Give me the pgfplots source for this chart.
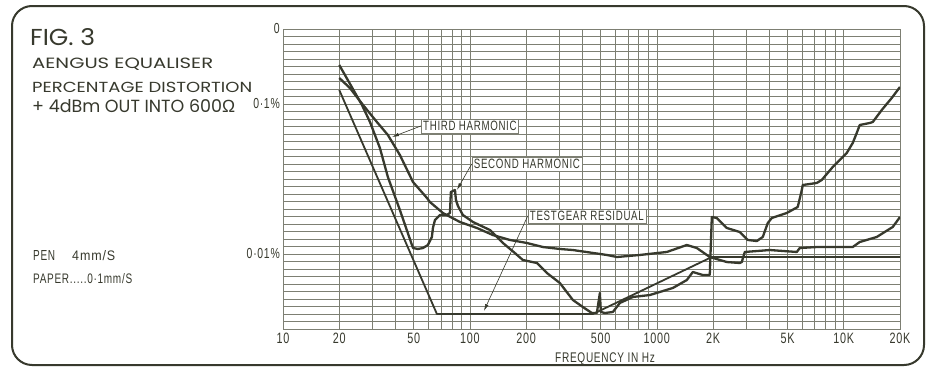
\documentclass[border=0pt]{standalone}
\usepackage{fontspec}
\usepackage{graphicx}
\usepackage{pgfplots}
\pgfplotsset{compat=1.18}
\usetikzlibrary{arrows.meta}
\setmainfont{Liberation Sans}
\newfontfamily\cond[FakeStretch=0.72,LetterSpace=5]{Liberation Sans}
\newfontfamily\geo{Poppins}
\newfontfamily\lib{Liberation Sans}
\definecolor{ink}{RGB}{55,57,45}
\definecolor{gridc}{RGB}{125,127,115}

\pgfplotstableread{
f dB
20 -4.8
26.45 -10.13
29.2 -12.4
33.0 -15.87
36.4 -19.73
42.2 -24.13
49.6 -29.2
52.7 -29.33
56.1 -29.2
59.6 -28.8
62.6 -27.73
63.4 -26.53
65.0 -25.47
69.1 -24.8
75.3 -24.8
78.2 -24.53
79.1 -21.73
83.2 -21.47
84.2 -22.8
86.3 -23.6
91.7 -24.8
103.8 -25.73
127.9 -26.8
150.2 -28.53
174.0 -29.87
192.0 -30.8
228.2 -31.2
258.1 -32.53
302.9 -33.87
355.5 -36.13
402.0 -37.07
449.2 -37.87
477.7 -37.87
495.7 -35.2
501.8 -37.73
527.2 -37.87
581.9 -37.73
634.3 -36.53
744.2 -35.73
917.6 -35.47
1218 -34.53
1447 -33.47
1558 -32.4
1762 -32.8
1920 -32.8
1969 -25.07
2094 -25.2
2368 -26.53
2779 -27.07
3067 -28.13
3426 -28.27
3688 -27.73
3923 -25.87
4121 -25.2
4957 -24.53
5675 -23.73
5964 -21.47
6036 -20.8
7171 -20.53
7626 -20.13
8733 -18.4
10375 -16.53
11170 -15.2
11733 -13.87
12178 -12.8
13773 -12.53
14294 -12.4
15970 -10.8
18060 -9.2
20000 -7.73
}\second

\pgfplotstableread{
f dB
20 -6.53
22.8 -7.87
26.8 -10.13
31.8 -12.4
36.4 -14.13
42.2 -16.8
49.6 -20.4
58.9 -22.53
61.1 -23.07
71.7 -24.53
88.4 -25.73
109.0 -26.53
132.7 -27.47
163.7 -28.13
201.8 -28.53
245.7 -29.07
302.9 -29.33
355.5 -29.47
540.5 -30.13
611.3 -30.4
811.3 -30.13
1131 -29.73
1447 -28.8
1636 -29.2
1920 -30.4
2368 -31.07
2779 -31.2
2848 -31.07
2955 -29.73
4022 -29.47
5609 -29.73
5817 -29.2
7171 -29.07
11170 -29.07
12178 -28.4
15016 -27.73
18280 -26.4
20000 -25.07
}\third

\pgfplotstableread{
f dB
20 -8.13
66.6 -38.0
455 -38.0
1970 -30.4
20000 -30.4
}\testgear

\begin{document}
\begin{tikzpicture}
\useasboundingbox (0,0) rectangle (929pt,368pt);
\fill[white] (0,0) rectangle (929pt,368pt);
\begin{axis}[
  at={(283pt,39pt)}, anchor=south west,
  scale only axis, width=617pt, height=300pt,
  xmode=log, log basis x=10,
  xmin=10, xmax=20000, ymin=-40, ymax=0,
  xtick={10,20,50,100,200,500,1000,2000,5000,10000,20000},
  xticklabels={10,20,50,100,200,500,1000,2K,5K,10K,20K},
  minor xtick={30,40,60,70,80,90,300,400,600,700,800,900,3000,4000,6000,7000,8000,9000},
  ytick={0,-10,-30},
  yticklabels={0\hspace{7pt},0·1\%,0·01\%},
  minor ytick={-39,-38,...,-1},
  grid=both,
  major grid style={gridc, line width=0.6pt},
  minor grid style={gridc, line width=0.6pt},
  axis line style={gridc, line width=0.9pt},
  tick style={draw=none},
  xticklabel style={font=\cond\fontsize{15}{15}\selectfont, anchor=north, inner sep=0pt, yshift=-4pt, text=ink},
  yticklabel style={font=\cond\fontsize{14.5}{14.5}\selectfont, anchor=east, inner sep=0pt, xshift=-3pt, text=ink},
]
\addplot[ink, line width=1.8pt, line join=round] table[x=f,y=dB] {\testgear};
\addplot[ink, line width=2.3pt, line join=round] table[x=f,y=dB] {\third};
\addplot[ink, line width=2.3pt, line join=round] table[x=f,y=dB] {\second};

\node[draw=gridc, fill=white, line width=0.5pt, inner sep=2pt, text=ink, font=\cond\fontsize{13.5}{13.5}\selectfont] (t) at (axis cs:100,-12.93) {THIRD HARMONIC};
\node[draw=gridc, fill=white, line width=0.5pt, inner sep=2pt, text=ink, font=\cond\fontsize{13.5}{13.5}\selectfont] (s) at (axis cs:201.8,-18.0) {SECOND HARMONIC};
\node[draw=gridc, fill=white, line width=0.5pt, inner sep=2pt, text=ink, font=\cond\fontsize{13.5}{13.5}\selectfont] (r) at (axis cs:422.5,-24.93) {TESTGEAR RESIDUAL};
\draw[ink, line width=0.6pt, -{Latex[length=7pt,width=3.5pt]}] (t.west) -- (axis cs:38.3,-14.4);
\draw[ink, line width=0.6pt, -{Latex[length=7pt,width=3.5pt]}] (s.west) -- (axis cs:85.2,-21.47);
\draw[ink, line width=0.6pt, -{Latex[length=7pt,width=3.5pt]}] (r.west) -- (axis cs:118.8,-37.6);
\end{axis}

\begin{scope}[shift={(0,368pt)}, x=1pt, y=-1pt]
\draw[ink, line width=2pt, rounded corners=20pt] (12,6) rectangle (924,365);
\node[anchor=base west, inner sep=0, text=ink] at (30,45) {\resizebox{65pt}{17pt}{\geo FIG. 3}};
\node[anchor=base west, inner sep=0, text=ink] at (32,68.5) {\resizebox{181pt}{10.5pt}{\geo AENGUS EQUALISER}};
\node[anchor=base west, inner sep=0, text=ink] at (32,92.3) {\resizebox{220pt}{10.3pt}{\geo PERCENTAGE DISTORTION}};
\node[anchor=base west, inner sep=0, text=ink] at (32,112) {\resizebox{203pt}{13pt}{\geo + 4dBm OUT INTO 600{\lib Ω}}};
\node[anchor=base west, inner sep=0, text=ink] at (33,260) {\resizebox{22pt}{10pt}{\cond PEN}};
\node[anchor=base west, inner sep=0, text=ink] at (72,260) {\resizebox{43pt}{10pt}{\cond 4mm/S}};
\node[anchor=base west, inner sep=0, text=ink] at (33,283) {\resizebox{99pt}{10pt}{\cond PAPER.....0·1mm/S}};
\node[anchor=base west, inner sep=0, text=ink, font=\cond\fontsize{14}{14}\selectfont] at (555,362) {FREQUENCY IN Hz};
\end{scope}
\end{tikzpicture}
\end{document}
